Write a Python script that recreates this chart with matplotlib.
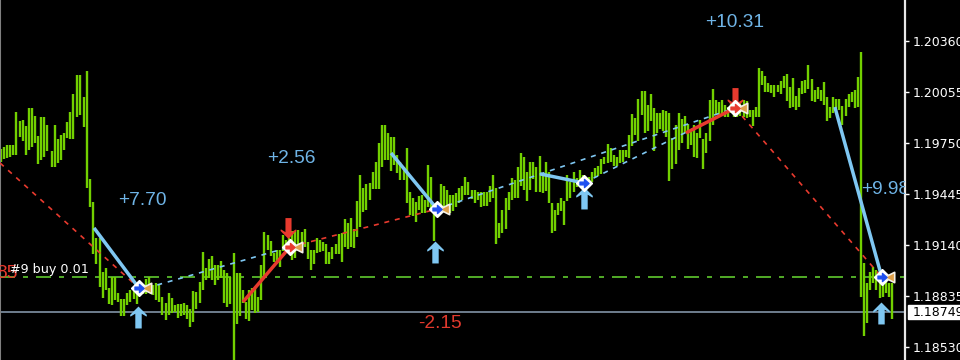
import matplotlib
matplotlib.use("Agg")
import matplotlib.pyplot as plt
from matplotlib.path import Path
from matplotlib.patches import Rectangle

# bar ranges in points (price * 1e5) left to right
HIGHS = [119713, 119725, 119737, 119737, 119737, 119933, 119879, 119885, 119849, 119959,
         119959, 119909, 119789, 119905, 119905, 119855, 119699, 119855, 119773, 119799,
         119809, 119875, 119933, 120043, 120155, 120155, 120023, 120179, 119533, 119399,
         119179, 119179, 118979, 119005, 118885, 118949, 118949, 118855, 118819, 118819,
         118855, 118869, 118869, 118889, 118889, 118909, 118939, 118949,
         118901, 118911, 118901, 118827, 118791, 118855, 118821, 118781, 118787, 118787,
         118791, 118781, 118755, 118867, 118861, 118921, 119097, 119001, 119055, 119071,
         119021, 119021, 119045, 118991, 118975, 118951, 119091, 118975, 118971, 118871,
         118801, 118871, 118881, 118881, 118831, 119021, 119217, 119201, 119161, 119091,
         119111, 119111, 119201, 119171, 119181, 119221, 119221, 119231,
         119219, 119233, 119159, 119109, 119109, 119179, 119169, 119159, 119143, 119099,
         119125, 119143, 119203, 119209, 119293, 119273, 119299, 119233, 119403, 119559,
         119479, 119505, 119513, 119579, 119639, 119749, 119859, 119859, 119809, 119785,
         119785, 119679, 119639, 119609, 119719, 119459, 119419, 119399, 119433, 119439,
         119409, 119619, 119549, 119349, 119379, 119505, 119493, 119469, 119439,
         119439, 119449, 119483, 119495, 119549, 119515, 119469, 119469, 119459, 119459,
         119459, 119459, 119495, 119559, 119479, 119269, 119349, 119419, 119459, 119539,
         119529, 119609, 119689, 119669, 119579, 119635, 119635, 119609, 119673, 119569,
         119635, 119579, 119393, 119349, 119393, 119419, 119405, 119559, 119519, 119579,
         119539, 119589, 119559, 119539, 119549, 119579, 119603, 119615,
         119652, 119664, 119744, 119718, 119678, 119668, 119708, 119708, 119708, 119798,
         119922, 119902, 120014, 120058, 120058, 119978, 120044, 119958, 119928, 119928,
         119948, 119942, 119928, 119778, 119858, 119932, 119892, 119912, 119864, 119818,
         119858, 119808, 119888, 119774, 119808, 120004, 120072, 120008, 119994, 120004,
         119978, 119968, 119988,
         119988, 119978, 119988, 120008, 119998, 119948,
         119947, 119967, 120197, 120181, 120151, 120107, 120097, 120097, 120097, 120123,
         120153, 120161, 120087, 120141, 120033, 120077, 120123, 120127, 120217, 120133,
         120067, 120087, 120067, 120113, 120023, 119967, 120023, 120013, 120013, 119973,
         120011, 120041, 120057, 120067, 120143, 120297,
         119031, 118911, 118981, 119011, 118991, 118911, 118951, 118931, 118911, 118911]
LOWS = [119639, 119653, 119659, 119669, 119679, 119679, 119785, 119759, 119679, 119705,
        119725, 119749, 119623, 119649, 119665, 119699, 119605, 119605, 119633, 119649,
        119705, 119779, 119773, 119773, 119905, 119919, 119843, 119479, 119365, 119085,
        119029, 118889, 118825, 118869, 118789, 118779, 118809, 118799, 118713, 118713,
        118779, 118799, 118819, 118789, 118839, 118849, 118849, 118869,
        118841, 118811, 118801, 118721, 118691, 118721, 118731, 118741, 118701, 118715,
        118721, 118695, 118651, 118681, 118755, 118791, 118871, 118931, 118941, 118931,
        118901, 118931, 118941, 118791, 118771, 118787, 118451, 118667, 118715, 118791,
        118695, 118687, 118751, 118731, 118741, 118811, 118951, 119111, 119071, 119041,
        119035, 119011, 119101, 119111, 119111, 119051, 119061, 119131,
        119139, 119129, 119059, 118989, 119029, 119093, 119099, 119105, 119029, 119029,
        119059, 119085, 119085, 119039, 119129, 119113, 119129, 119119, 119185, 119249,
        119339, 119349, 119409, 119473, 119473, 119473, 119605, 119649, 119649, 119585,
        119619, 119573, 119529, 119529, 119389, 119319, 119313, 119279, 119349, 119329,
        119329, 119369, 119349, 119165, 119309, 119349, 119369, 119359, 119329,
        119345, 119369, 119389, 119409, 119439, 119439, 119413, 119389, 119409, 119369,
        119373, 119373, 119399, 119419, 119143, 119179, 119209, 119233, 119349, 119409,
        119419, 119423, 119495, 119469, 119403, 119469, 119533, 119459, 119455, 119453,
        119463, 119389, 119213, 119225, 119319, 119345, 119259, 119405, 119419, 119459,
        119489, 119499, 119499, 119469, 119489, 119515, 119549, 119553,
        119564, 119624, 119628, 119636, 119612, 119612, 119632, 119638, 119664, 119658,
        119732, 119798, 119762, 119918, 119808, 119824, 119884, 119702, 119808, 119832,
        119824, 119788, 119522, 119594, 119622, 119708, 119748, 119808, 119714, 119738,
        119668, 119658, 119778, 119592, 119688, 119764, 119858, 119924, 119918, 119918,
        119908, 119908, 119928,
        119908, 119908, 119912, 119908, 119898, 119908,
        119851, 119903, 119907, 120097, 120057, 120057, 120047, 120023, 120057, 120041,
        120077, 120003, 119957, 119967, 119947, 119967, 120041, 120047, 120073, 120003,
        119993, 120011, 120003, 119977, 119881, 119901, 119931, 119957, 119947, 119857,
        119911, 119967, 119993, 119957, 119967, 118830,
        118595, 118671, 118871, 118911, 118871, 118821, 118831, 118851, 118831, 118695]

# places where the chart leaves a wider space before a bar: bar number, extra width
BAR_GAPS = [(16, 0.45), (26, 0.45), (48, 0.35)]

TICKS = [1.20360, 1.20055, 1.19750, 1.19445, 1.19140, 1.18835, 1.18530]
ORDER_PRICE = 1.18947
BID_PRICE = 1.18739
BID_LABEL = "1.18749"
ORDER_LABEL = "#9 buy 0.01"

# trades: open bar/price, close bar/price
BLUE_OPEN_BAR = [30.1, 126.2, 174.4, 269.8]
BLUE_OPEN = [1.19242, 1.19690, 1.19565, 1.19965]
BLUE_CLOSE_BAR = [44.6, 141.1, 188.6, 285.0]
BLUE_CLOSE = [1.18883, 1.19355, 1.19511, 1.18947]
RED_OPEN_BAR = [78.3, 221.6]
RED_OPEN = [1.18799, 1.19810]
RED_CLOSE_BAR = [93.5, 237.5]
RED_CLOSE = [1.19128, 1.19959]

# thin links between trades
RED_LINK_BARS = [(-0.3, 44.6), (93.5, 141.1), (237.5, 285.0)]
RED_LINK_PRICES = [(1.19630, 1.18883), (1.19128, 1.19355), (1.19959, 1.18947)]
BLUE_LINK_BARS = [(47.2, 93.5), (141.1, 237.5), (188.6, 237.5)]
BLUE_LINK_PRICES = [(1.18883, 1.19128), (1.19355, 1.19959), (1.19511, 1.19959)]

# signal arrows
UP_BARS = [44.3, 140.4, 188.6, 284.7]
UP_PRICES = [1.18712, 1.19095, 1.19420, 1.18735]
DOWN_BARS = [92.9, 237.5]
DOWN_PRICES = [1.19242, 1.20020]

# profit labels
PL_TEXT = ["+7.70", "+2.56", "-2.15", "+10.31"]
PL_BARS = [45.9, 94.1, 142.0, 237.5]
PL_PRICES = [1.19405, 1.19656, 1.18672, 1.20473]
PL_COLORS = ["#6FB4E6", "#6FB4E6", "#E0392D", "#6FB4E6"]

BAR_GREEN = "#72D000"
LINE_GREEN = "#5FC92E"
SKY = "#7FC7F2"
RED = "#E83A2E"
FONT = "Liberation Sans"

UP_ARROW = Path([(-1, 0.3), (0, 1.3), (1, 0.3), (0.95, 0.1), (0.38, 0.45), (0.38, -1.3),
                 (-0.38, -1.3), (-0.38, 0.45), (-0.95, 0.1), (-1, 0.3)], closed=True)
DOWN_ARROW = Path([(x, -y) for x, y in UP_ARROW.vertices], closed=True)
RIGHT_ARROW = Path([(-1, 0.3), (0, 0.3), (0, 0.9), (1, 0), (0, -0.9), (0, -0.3), (-1, -0.3), (-1, 0.3)], closed=True)
LEFT_TRI = Path([(1, 1), (1, -1), (-1, 0), (1, 1)], closed=True)


def bar_positions():
    pos = []
    extra = 0
    gaps = dict(BAR_GAPS)
    for i in range(len(HIGHS)):
        extra += gaps.get(i, 0)
        pos.append(i + extra)
    return pos


def draw_trade_marks(ax, bar, price, color, closed=True):
    ax.plot(bar, price, marker="D", ms=8.5, mfc="white", mec="white", zorder=6)
    ax.plot(bar, price, marker=RIGHT_ARROW, ms=6.5, mfc=color, mec=color, zorder=7)
    if closed:
        ax.plot(bar + 2.3, price, marker=LEFT_TRI, ms=7.5, mfc="#DFA04A", mec="#F4F0E6", mew=1.2, zorder=6)


def main():
    fig = plt.figure(figsize=(9.6, 3.6), dpi=100, facecolor="black")
    ax = fig.add_axes([0, 0, 905 / 960, 1], facecolor="black")

    ax.vlines(bar_positions(), [v / 1e5 for v in LOWS], [v / 1e5 for v in HIGHS], color=BAR_GREEN, lw=1.7, zorder=2)

    ax.axhline(ORDER_PRICE, color=LINE_GREEN, lw=1.2, dashes=(9, 4.8, 3, 4.8), zorder=1)
    ax.axhline(BID_PRICE, color="#778899", lw=1.3, zorder=1)

    for x, y in zip(RED_LINK_BARS, RED_LINK_PRICES):
        ax.plot(x, y, color=RED, lw=1.2, dashes=(3, 3.5), zorder=3)
    for x, y in zip(BLUE_LINK_BARS, BLUE_LINK_PRICES):
        ax.plot(x, y, color=SKY, lw=1.2, dashes=(3, 3.5), zorder=3)

    for i in range(len(BLUE_OPEN)):
        ax.plot([BLUE_OPEN_BAR[i], BLUE_CLOSE_BAR[i]], [BLUE_OPEN[i], BLUE_CLOSE[i]],
                color=SKY, lw=2.5, zorder=4, solid_capstyle="butt")
        draw_trade_marks(ax, BLUE_CLOSE_BAR[i], BLUE_CLOSE[i], "#1F4FF0", closed=i != 2)
    for i in range(len(RED_OPEN)):
        ax.plot([RED_OPEN_BAR[i], RED_CLOSE_BAR[i]], [RED_OPEN[i], RED_CLOSE[i]],
                color=RED, lw=2.5, zorder=4, solid_capstyle="butt")
        draw_trade_marks(ax, RED_CLOSE_BAR[i], RED_CLOSE[i], RED)

    ax.plot(UP_BARS, UP_PRICES, ls="none", marker=UP_ARROW, ms=15.8, mfc=SKY, mec=SKY, mew=0, zorder=5)
    ax.plot(DOWN_BARS, DOWN_PRICES, ls="none", marker=DOWN_ARROW, ms=15, mfc=RED, mec=RED, mew=0, zorder=5)

    for label, x, y, c in zip(PL_TEXT, PL_BARS, PL_PRICES, PL_COLORS):
        ax.text(x, y, label, color=c, fontsize=13.8, family=FONT, ha="center", va="center", zorder=8)
    ax.text(278.2, 1.19470, "+9.98", color=PL_COLORS[0], fontsize=13.8, family=FONT,
            ha="left", va="center", clip_on=True, zorder=8)
    ax.text(5.2, 1.18972, "85", color=RED, fontsize=13.8, family=FONT, ha="right", va="center", zorder=8)
    ax.text(2.9, 1.18995, ORDER_LABEL, color="white", fontsize=9.2, family="DejaVu Sans",
            ha="left", va="center", zorder=9)

    ax.set_xlim(-0.32, 292.5)
    ax.set_ylim(1.18452, 1.20605)
    ax.set_xticks([])
    ax.yaxis.tick_right()
    ax.set_yticks(TICKS)
    ax.set_yticklabels([f"{t:.5f}" for t in TICKS], color="white", family="DejaVu Sans", fontsize=9)
    ax.tick_params(axis="y", colors="white", length=2.8, width=1, pad=3)

    for side in ["top", "bottom"]:
        ax.spines[side].set_visible(False)
    ax.spines["right"].set_color("#E8E8E8")
    ax.spines["right"].set_linewidth(1.6)
    ax.spines["left"].set_color("#808080")
    ax.spines["left"].set_linewidth(1.5)

    # current price box
    tr = ax.get_yaxis_transform()
    ax.add_patch(Rectangle((1.0035, BID_PRICE - 0.00044), 0.07, 0.00088, transform=tr,
                           facecolor="white", edgecolor="white", clip_on=False, zorder=10))
    ax.text(1.0088, BID_PRICE, BID_LABEL, transform=tr, color="black", family="DejaVu Sans",
            fontsize=9, ha="left", va="center", clip_on=False, zorder=11)

    fig.savefig("out.png", dpi=100, facecolor="black")


if __name__ == "__main__":
    main()
